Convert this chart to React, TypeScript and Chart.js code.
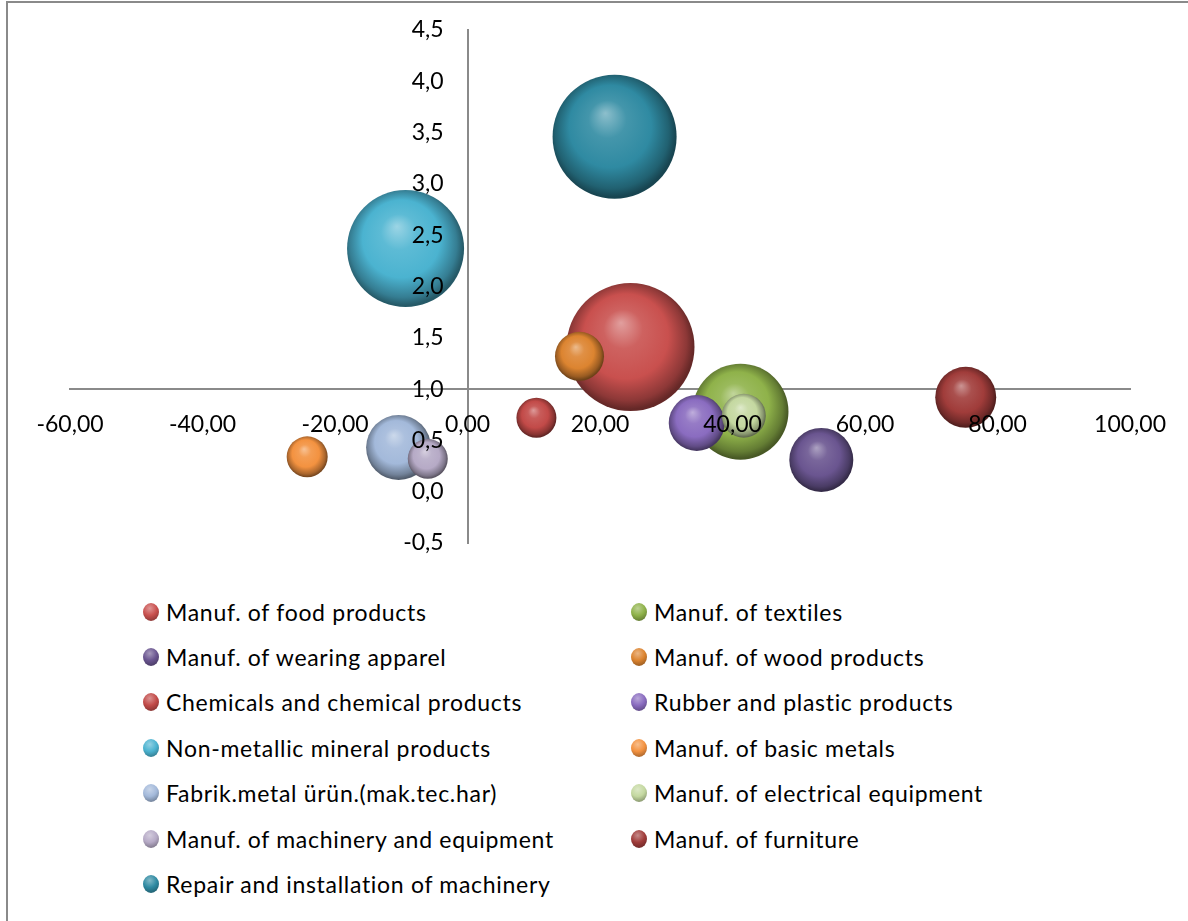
import React, { useEffect, useRef } from "react";
import { Chart, registerables } from "chart.js";

Chart.register(...registerables);

// ---- data ----
const categories: string[] = [
  "Manuf. of food products",
  "Manuf. of textiles",
  "Manuf. of wearing apparel",
  "Manuf. of wood products",
  "Chemicals and chemical products",
  "Rubber and plastic products",
  "Non-metallic mineral products",
  "Manuf. of basic metals",
  "Fabrik.metal ürün.(mak.tec.har)",
  "Manuf. of electrical equipment",
  "Manuf. of machinery and equipment",
  "Manuf. of furniture",
  "Repair and installation of machinery",
];
const xValues: number[] = [24.6, 41.2, 53.4, 16.9, 10.4, 34.6, -9.35, -24.2, -10.4, 41.7, -6.0, 75.2, 22.2];
const yValues: number[] = [1.41, 0.78, 0.31, 1.32, 0.72, 0.67, 2.37, 0.34, 0.43, 0.74, 0.32, 0.92, 3.46];
const bubbleRadius: number[] = [64, 48, 32, 24.5, 20, 28, 58.5, 20.5, 32.5, 22, 20, 30.5, 62];
const seriesColors: string[] = [
  "#C9504E",
  "#8FB24A",
  "#6A5590",
  "#DC8430",
  "#C24A48",
  "#8A6CC0",
  "#4BB3D0",
  "#F39240",
  "#A3B9DA",
  "#C4D8A0",
  "#B6AAC6",
  "#A03C3A",
  "#2F8AA2",
];
const xTickValues = { min: -60, max: 100, step: 20 };
const yTickValues = { min: -0.5, max: 4.5, step: 0.5 };
const yAxisCrossX = 0; // vertical axis crosses at x = 0
const xAxisCrossY = 1; // horizontal axis crosses at y = 1
const yLabelGapX = 3.6; // gap between vertical axis and its labels, in x units

// ---- helpers ----
function hexToRgb(h: string): [number, number, number] {
  const v = h.replace("#", "");
  return [parseInt(v.slice(0, 2), 16), parseInt(v.slice(2, 4), 16), parseInt(v.slice(4, 6), 16)];
}
function mix(h: string, target: string, t: number): string {
  const a = hexToRgb(h);
  const b = hexToRgb(target);
  const c = a.map((v, i) => Math.round(v + (b[i] - v) * t));
  return `rgb(${c[0]},${c[1]},${c[2]})`;
}

function sphere(i: number) {
  return (ctx: any) => {
    const base = seriesColors[i];
    const chart = ctx.chart;
    const xs = chart.scales?.x;
    const ys = chart.scales?.y;
    if (ctx.type !== "data" || !xs || !ys || !ctx.raw) return base;
    const cx = xs.getPixelForValue(ctx.raw.x);
    const cy = ys.getPixelForValue(ctx.raw.y);
    const r = ctx.raw.r;
    if (!isFinite(cx) || !isFinite(cy)) return base;
    const g = chart.ctx.createRadialGradient(cx - 0.15 * r, cy - 0.38 * r, 0, cx - 0.03 * r, cy - 0.05 * r, r * 1.02);
    g.addColorStop(0, mix(base, "#FFFFFF", 0.45));
    g.addColorStop(0.3, mix(base, "#FFFFFF", 0.1));
    g.addColorStop(0.65, base);
    g.addColorStop(0.9, mix(base, "#000000", 0.3));
    g.addColorStop(1, mix(base, "#000000", 0.5));
    return g;
  };
}

const FONT = "Lato, 'Open Sans', sans-serif";
const AXIS_COLOR = "#8A8A8A";

export default function App() {
  const canvasRef = useRef<HTMLCanvasElement | null>(null);

  useEffect(() => {
    let chart: Chart | null = null;
    let cancelled = false;
    const yFmt = (v: any) => Number(v).toFixed(1).replace(".", ",");
    const build = () => {
      if (cancelled || !canvasRef.current) return;
      chart = new Chart(canvasRef.current, {
        type: "bubble",
        data: {
          datasets: categories.map((label, i) => ({
            label,
            data: [{ x: xValues[i], y: yValues[i], r: bubbleRadius[i] }],
            backgroundColor: sphere(i),
            hoverBackgroundColor: sphere(i),
            borderWidth: 0,
            order: categories.length - i,
          })),
        },
        options: {
          responsive: false,
          animation: false,
          layout: { autoPadding: false, padding: { left: 70, right: 57, top: 30, bottom: 37 } },
          plugins: { legend: { display: false }, tooltip: { enabled: false } },
          scales: {
            x: {
              type: "linear",
              position: { y: xAxisCrossY },
              min: xTickValues.min,
              max: xTickValues.max,
              grid: { display: false, drawTicks: false },
              border: { display: true, color: AXIS_COLOR, width: 2, z: 0 },
              ticks: {
                stepSize: xTickValues.step,
                padding: 22,
                color: "#000",
                z: 1,
                font: { family: FONT, size: 23 },
                maxRotation: 0,
                autoSkip: false,
                callback: (v: any) => Number(v).toFixed(2).replace(".", ","),
              },
            },
            y: {
              type: "linear",
              position: { x: yAxisCrossX },
              min: yTickValues.min,
              max: yTickValues.max,
              grid: { display: false, drawTicks: false },
              border: { display: true, color: AXIS_COLOR, width: 2, z: 0 },
              ticks: { display: false, stepSize: yTickValues.step },
            },
            yLabels: {
              type: "linear",
              axis: "y",
              position: { x: yAxisCrossX - yLabelGapX },
              min: yTickValues.min,
              max: yTickValues.max,
              grid: { display: false, drawTicks: false },
              border: { display: false },
              ticks: {
                stepSize: yTickValues.step,
                color: "#000",
                z: 1,
                font: { family: FONT, size: 23 },
                autoSkip: false,
                callback: yFmt,
              },
            },
          },
        } as any,
      });
    };
    const fonts: any = (document as any).fonts;
    if (fonts && fonts.load) {
      Promise.all([fonts.load("23px Lato")]).then(build, build);
    } else {
      build();
    }
    return () => {
      cancelled = true;
      if (chart) chart.destroy();
    };
  }, []);

  const legendRows = Math.ceil(categories.length / 2);

  return (
    <div style={{ position: "fixed", left: 0, top: 0, width: 1188, height: 921, overflow: "hidden", background: "#fff" }}>
      <div
        style={{
          position: "absolute",
          left: 6,
          top: 1,
          width: 1300,
          height: 1000,
          border: "2px solid #8A8A8A",
          boxSizing: "border-box",
        }}
      />
      <canvas ref={canvasRef} width={1188} height={580} style={{ position: "absolute", left: 0, top: 0, width: 1188, height: 580 }} />
      <div
        style={{
          position: "absolute",
          left: 143,
          top: 589,
          display: "grid",
          gridTemplateColumns: "488px 488px",
          gridTemplateRows: `repeat(${legendRows}, 45.4px)`,
          gridAutoFlow: "row",
          fontFamily: FONT,
          fontSize: 23,
          letterSpacing: "0.7px",
          color: "#000",
        }}
      >
        {categories.map((label, i) => {
          const base = seriesColors[i];
          return (
            <div key={label} style={{ display: "flex", alignItems: "center", whiteSpace: "nowrap" }}>
              <span
                style={{
                  display: "inline-block",
                  width: 16,
                  height: 18,
                  borderRadius: "50%",
                  marginRight: 7,
                  flex: "none",
                  background: `radial-gradient(circle at 42% 30%, ${mix(base, "#FFFFFF", 0.4)} 0%, ${base} 45%, ${mix(base, "#000000", 0.45)} 100%)`,
                }}
              />
              <span>{label}</span>
            </div>
          );
        })}
      </div>
    </div>
  );
}
